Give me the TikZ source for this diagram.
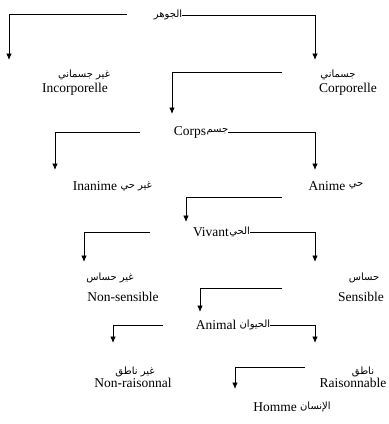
\documentclass[tikz,border=0pt]{standalone}
\usepackage{fontspec}
\setmainfont{Liberation Serif}
\newfontfamily\arabicfont[Script=Arabic]{DejaVu Sans}
\TeXXeTstate=1
\usetikzlibrary{arrows.meta}

\newcommand{\ar}[1]{\arabicfont\beginR #1\endR}

\begin{document}
\begin{tikzpicture}[
  x=1pt, y=-1pt,
  lat/.style={font=\fontsize{13.5}{15}\selectfont, inner sep=0pt},
  arb/.style={font=\arabicfont\fontsize{10}{12}\selectfont, inner sep=0pt},
  branch/.style={-{Latex[length=6.5pt, width=5.5pt]}, line width=0.9pt},
]
\useasboundingbox (0,0) rectangle (389,424);

% level 1
\node[arb] (jawhar) at (168,15) {\ar{الجوهر}};
\coordinate (a1) at (127,14);
\coordinate (t1) at (9,60);
\coordinate (t2) at (315,60);
\draw[branch] (a1) -| (t1);
\draw[branch] (jawhar.east) -| (t2);

\node[arb] (arincorp) at (84,75) {\ar{غير جسماني}};
\node[lat] (incorp) at (75,89) {Incorporelle};
\node[arb] (arcorp) at (338,75) {\ar{جسماني}};
\node[lat] (corp) at (348,89) {Corporelle};

% level 2
\coordinate (b0) at (282,72);
\coordinate (t3) at (172,114);
\draw[branch] (b0) -| (t3);

\node[lat] (corps) at (190,132) {Corps};
\node[arb, anchor=west] (jism) at (corps.east) {\ar{جسم}};
\coordinate (b1) at (140,132);
\coordinate (t4) at (55,170);
\coordinate (t5) at (315,170);
\draw[branch] (b1) -| (t4);
\draw[branch] (jism.east) -| (t5);

\node[lat] (inanime) at (95,186) {Inanime};
\node[arb, anchor=west] (ghayrhay) at ([xshift=3pt]inanime.east) {\ar{غير حي}};
\node[lat] (anime) at (327,186) {Anime};
\node[arb, anchor=west] (hay) at ([xshift=3pt]anime.east) {\ar{حي}};

% level 3
\coordinate (c0) at (282,197);
\coordinate (t6) at (186,222);
\draw[branch] (c0) -| (t6);

\node[lat] (vivant) at (211,232) {Vivant};
\node[arb, anchor=west] (alhay) at (vivant.east) {\ar{الحي}};
\coordinate (c1) at (150,232);
\coordinate (t7) at (84,262);
\coordinate (t8) at (315,262);
\draw[branch] (c1) -| (t7);
\draw[branch] (alhay.east) -| (t8);

\node[arb] (arnonsens) at (110,278) {\ar{غير حساس}};
\node[lat] (nonsens) at (123,297) {Non-sensible};
\node[arb] (arsens) at (364,278) {\ar{حساس}};
\node[lat] (sens) at (361,297) {Sensible};

% level 4
\coordinate (d0) at (282,288);
\coordinate (t9) at (200,312);
\draw[branch] (d0) -| (t9);

\node[lat] (animal) at (216,325) {Animal};
\node[arb, anchor=west] (hayawan) at ([xshift=3pt]animal.east) {\ar{الحيوان}};
\coordinate (d1) at (163,325);
\coordinate (t10) at (113,343);
\coordinate (t11) at (315,343);
\draw[branch] (d1) -| (t10);
\draw[branch] (hayawan.east) -| (t11);

\node[arb] (arnonrais) at (135,372) {\ar{غير ناطق}};
\node[lat] (nonrais) at (133,383) {Non-raisonnal};
\node[arb] (arrais) at (363,372) {\ar{ناطق}};
\node[lat] (rais) at (353,383) {Raisonnable};

% level 5
\coordinate (e0) at (305,367);
\coordinate (t12) at (235,389);
\draw[branch] (e0) -| (t12);

\node[lat] (homme) at (275,407) {Homme};
\node[arb, anchor=west] (insan) at ([xshift=3pt]homme.east) {\ar{الإنسان}};
\end{tikzpicture}
\end{document}
